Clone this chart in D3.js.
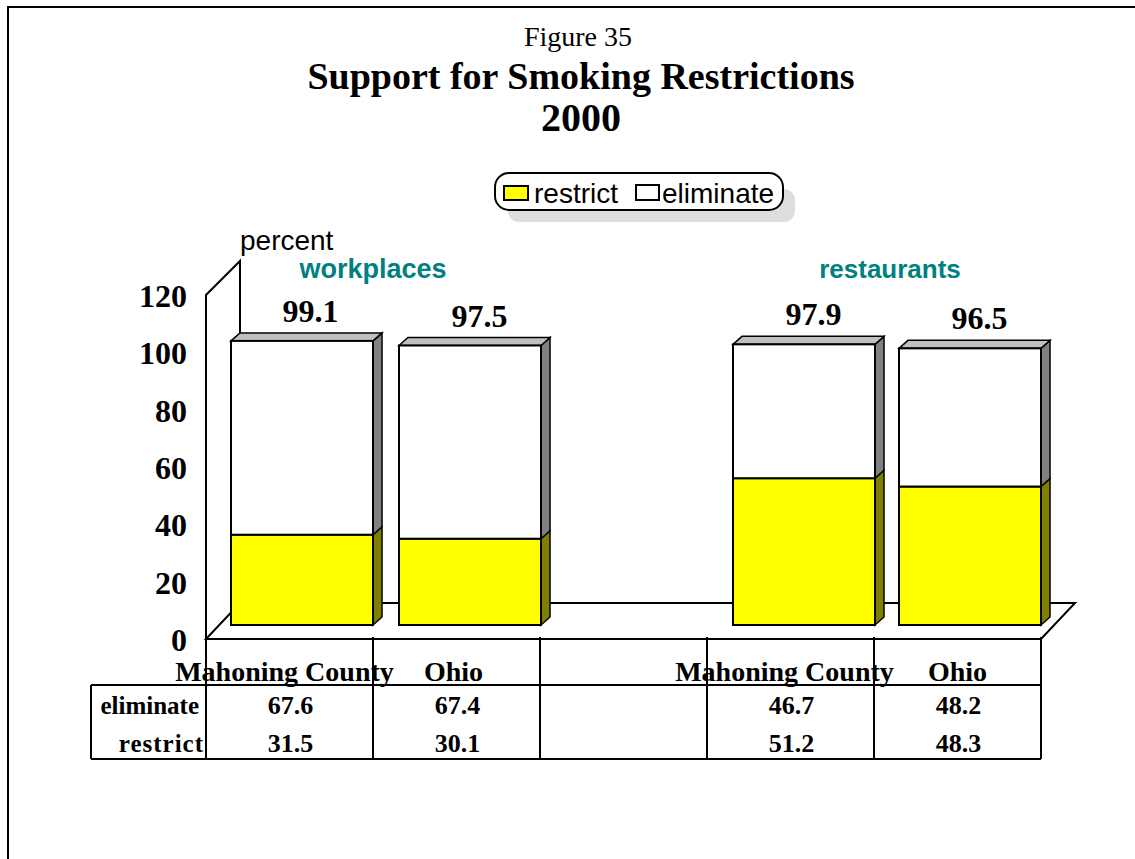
<!DOCTYPE html>
<html><head><meta charset="utf-8">
<script src="https://cdn.jsdelivr.net/npm/d3@7"></script>
<style>html,body{margin:0;padding:0;background:#fff}svg{display:block}
.s{font-family:"Liberation Serif",serif}.a{font-family:"Liberation Sans",sans-serif}</style>
</head><body><svg id="c" width="1135" height="859"></svg>
<script>
const slots = ["w-county","w-ohio","gap","r-county","r-ohio"];
const barSlots = ["w-county","w-ohio","r-county","r-ohio"];
const categoryLabels = ["Mahoning County","Ohio","Mahoning County","Ohio"];
const restrict = [31.5,30.1,51.2,48.3];
const eliminate = [67.6,67.4,46.7,48.2];
const totals = ["99.1","97.5","97.9","96.5"];
const yTicks = [0,20,40,60,80,100,120];
const groups = ["workplaces","restaurants"];

const svg = d3.select("#c");
const x = d3.scaleBand().domain(slots).range([206,1041]);
const y = d3.scaleLinear().domain([0,120]).range([639,295]);
const depth = 34, barDepthX = 9, barDepthY = 8, barLift = 14, barInset = 25.5, barW = 142;
const barNudge = [-0.5,0.5,0.5,-0.5], totalNudge = [0,1,1,1], catNudge = [-5,-9,-6,-6];
const SW = 2;
const line = (x1,y1,x2,y2,w=SW)=>svg.append("line").attr("x1",x1).attr("y1",y1).attr("x2",x2).attr("y2",y2).attr("stroke","#000").attr("stroke-width",w);
const text = (t,px,py,size,cls,o={})=>svg.append("text").attr("class",cls).attr("x",px).attr("y",py).attr("font-size",size)
  .attr("text-anchor",o.anchor||"middle").attr("font-weight",o.weight||"normal").attr("fill",o.fill||"#000").text(t);

// outer frame
svg.append("path").attr("d","M8,859V7H1135").attr("fill","none").attr("stroke","#000").attr("stroke-width",2);

// titles
text("Figure 35",578,46,28,"s");
text("Support for Smoking Restrictions",581,89,38,"s",{weight:"bold"});
text("2000",581,131,40,"s",{weight:"bold"});

// legend
svg.append("rect").attr("x",508).attr("y",189).attr("width",287).attr("height",33).attr("rx",11).attr("fill","#dedede");
svg.append("rect").attr("x",495).attr("y",173).attr("width",288).attr("height",37).attr("rx",14).attr("fill","#fff").attr("stroke","#000").attr("stroke-width",2);
svg.append("rect").attr("x",504).attr("y",186).attr("width",24).attr("height",14).attr("fill","#ff0").attr("stroke","#000").attr("stroke-width",2);
text("restrict",534,203,28,"a",{anchor:"start"});
svg.append("rect").attr("x",636).attr("y",185).attr("width",23).attr("height",15).attr("fill","#fff").attr("stroke","#000").attr("stroke-width",2);
text("eliminate",662,203,28,"a",{anchor:"start"});

// walls and floor
const y0=y(0), yT=y(120);
svg.append("path").attr("d",`M${x.range()[0]},${y0}V${yT}L${x.range()[0]+depth},${yT-depth}V${y0-depth}`).attr("fill","none").attr("stroke","#000").attr("stroke-width",SW);
svg.append("path").attr("d",`M${x.range()[0]},${y0}L${x.range()[0]+depth},${y0-depth-2}H${x.range()[1]+depth}L${x.range()[1]},${y0}Z`).attr("fill","#fff").attr("stroke","#000").attr("stroke-width",SW);

// y axis
const yAxis = d3.axisLeft(y).tickValues(yTicks).tickSize(0).tickPadding(19);
const ga = svg.append("g").attr("transform",`translate(${x.range()[0]},0)`).call(yAxis);
ga.select(".domain").remove();
ga.selectAll("text").attr("class","s").attr("font-size",32).attr("font-weight","bold").attr("fill","#000").attr("dy","0.36em");
text("percent",240,250,28,"a",{anchor:"start"});

// group labels
text(groups[0],373,278,27,"a",{weight:"bold",fill:"#008080"});
text(groups[1],890,278,26,"a",{weight:"bold",fill:"#008080"});

// bars
const rows = barSlots.map((k,i)=>({k,i,r:restrict[i],e:eliminate[i],t:totals[i]}));
const bx = d=>x(d.k)+barInset+barNudge[d.i];
const by = v=>y(v)-barLift;
const side=(g,d,v0,v1,fill)=>g.append("path").attr("d",`M${bx(d)+barW},${by(v0)}l${barDepthX},${-barDepthY}V${by(v1)-barDepthY}l${-barDepthX},${barDepthY}Z`).attr("fill",fill).attr("stroke","#000").attr("stroke-width",1.5);
rows.forEach(d=>{
  const g=svg.append("g");
  const top=d.r+d.e;
  side(g,d,0,d.r,"#808000");
  side(g,d,d.r,top,"#808080");
  g.append("path").attr("d",`M${bx(d)},${by(top)}l${barDepthX},${-barDepthY}h${barW}l${-barDepthX},${barDepthY}Z`).attr("fill","#c0c0c0").attr("stroke","#000").attr("stroke-width",1.5);
  g.append("rect").attr("x",bx(d)).attr("y",by(d.r)).attr("width",barW).attr("height",by(0)-by(d.r)).attr("fill","#ff0").attr("stroke","#000").attr("stroke-width",SW);
  g.append("rect").attr("x",bx(d)).attr("y",by(top)).attr("width",barW).attr("height",by(d.r)-by(top)).attr("fill","#fff").attr("stroke","#000").attr("stroke-width",SW);
  text(d.t,bx(d)+barW/2+8.5+totalNudge[d.i],by(top)-19,32,"s",{weight:"bold"});
});

// data table
const xs=[...slots.map(s=>x(s)),x.range()[1]];
xs.forEach(v=>line(v,637,v,759));
line(91,685,x.range()[1],685); line(91,759,x.range()[1],759); line(91,685,91,759);
line(x.range()[0],y0,x.range()[1],y0);
rows.forEach(d=>{
  const cx=x(d.k)+x.bandwidth()/2;
  text(categoryLabels[d.i],cx+catNudge[d.i]+(d.i%2?6:0),681,28,"s",{weight:"bold"});
  text(d.e.toFixed(1),cx+1,714,26,"s",{weight:"bold"});
  text(d.r.toFixed(1),cx+1,752,26,"s",{weight:"bold"});
});
text("eliminate",199,714,25,"s",{anchor:"end",weight:"bold"});
text("restrict",204,752,25,"s",{anchor:"end",weight:"bold"}).attr("letter-spacing",1);
</script></body></html>
